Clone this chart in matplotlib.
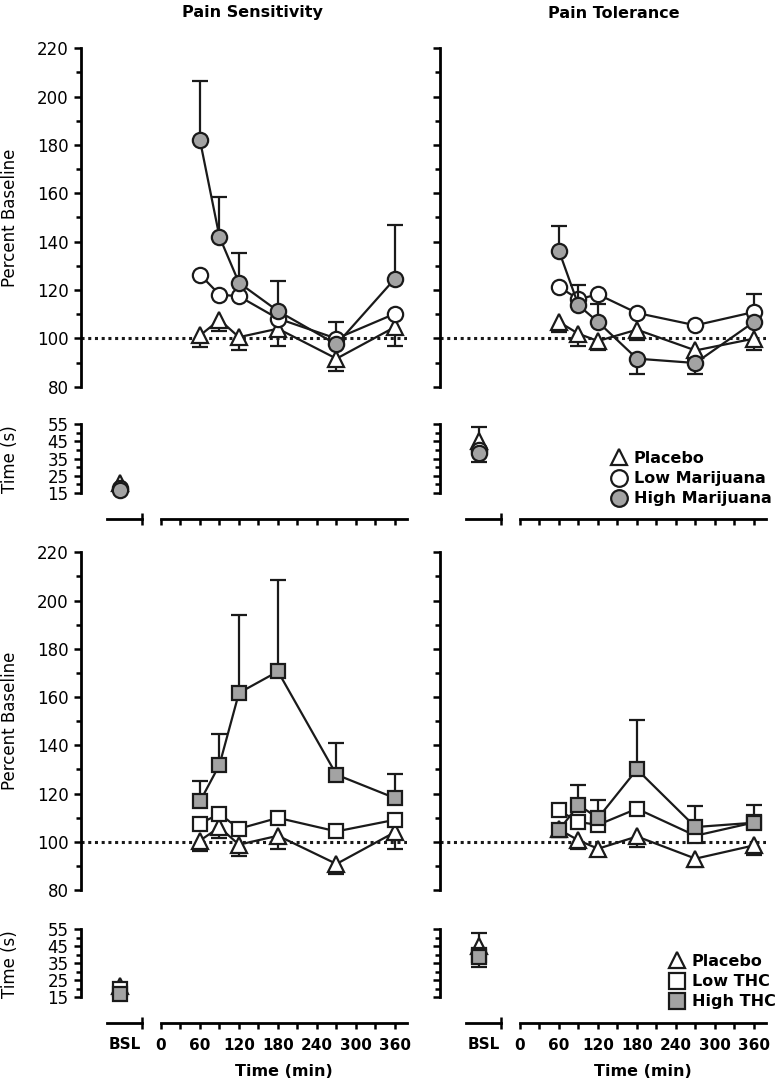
import numpy as np
import matplotlib.pyplot as plt
from matplotlib.lines import Line2D
from matplotlib.ticker import FixedLocator, FixedFormatter

plt.rcParams['font.family'] = ['DejaVu Sans']

W, H = 778, 1082

times = [60, 90, 120, 180, 270, 360]
x_ticks = [0, 30, 60, 90, 120, 150, 180, 210, 240, 270, 300, 330, 360]
x_ticklabels = ['0', '', '60', '', '120', '', '180', '', '240', '', '300', '', '360']

mj_labels = ['Placebo', 'Low Marijuana', 'High Marijuana']
thc_labels = ['Placebo', 'Low THC', 'High THC']

# Pain Sensitivity - smoked marijuana (percent baseline)
sens_mj_placebo = [101.2, 107.7, 100.5, 104.0, 91.6, 104.7]
sens_mj_placebo_dn = [4.8, 4.7, 5.5, 7.0, 4.9, 7.7]
sens_mj_low = [126.4, 118.1, 117.4, 108.2, 99.9, 110.2]
sens_mj_low_up = [0, 0, 0, 0, 7.0, 0]
sens_mj_high = [182.0, 142.0, 123.0, 111.3, 97.5, 124.7]
sens_mj_high_up = [24.6, 16.5, 12.4, 12.4, 0, 22.1]

# Pain Tolerance - smoked marijuana
tol_mj_placebo = [106.8, 101.9, 98.9, 103.6, 95.0, 99.9]
tol_mj_placebo_dn = [4.2, 4.9, 3.9, 4.4, 4.1, 4.6]
tol_mj_low = [121.3, 116.2, 118.2, 110.5, 105.4, 110.9]
tol_mj_low_up = [0, 0, 0, 0, 0, 7.3]
tol_mj_high = [136.2, 113.7, 106.8, 91.6, 89.8, 106.8]
tol_mj_high_up = [10.2, 8.3, 7.6, 0, 0, 0]
tol_mj_high_dn = [0, 0, 0, 6.5, 4.4, 0]

# Pain Sensitivity - oral THC
sens_thc_placebo = [100.5, 106.0, 98.8, 102.5, 90.8, 104.0]
sens_thc_placebo_dn = [4.5, 4.5, 4.5, 5.5, 4.0, 7.0]
sens_thc_low = [107.5, 111.6, 105.4, 109.9, 104.3, 109.1]
sens_thc_high = [116.7, 131.9, 161.7, 170.6, 127.8, 118.1]
sens_thc_high_up = [8.4, 12.8, 32.5, 38.1, 13.1, 9.8]

# Pain Tolerance - oral THC
tol_thc_placebo = [105.1, 100.6, 97.1, 102.2, 93.0, 98.5]
tol_thc_placebo_dn = [3.1, 3.5, 2.7, 4.4, 3.5, 4.1]
tol_thc_low = [113.0, 108.2, 107.0, 113.7, 102.5, 108.0]
tol_thc_high = [104.8, 115.3, 109.8, 130.0, 106.1, 107.9]
tol_thc_high_up = [0, 8.3, 7.6, 20.4, 8.9, 7.4]

# baseline (BSL) times in seconds: placebo, low, high
bsl_sens_mj = [21.0, 18.0, 17.0]
bsl_tol_mj = [45.0, 40.0, 38.5]
bsl_tol_mj_up = [8.0, 0, 0]
bsl_tol_mj_dn = [0, 0, 5.5]
bsl_sens_thc = [21.5, 20.0, 17.0]
bsl_tol_thc = [45.0, 40.0, 38.5]
bsl_tol_thc_up = [8.0, 0, 0]
bsl_tol_thc_dn = [0, 0, 5.5]

EDGE = '#1a1a1a'
GRAY = '#a3a3a3'
zeros = [0] * 6


def rect(left, top, right, bottom):
    return [left / W, 1 - bottom / H, (right - left) / W, (bottom - top) / H]


def errbars(ax, x, y, up, dn, z):
    x = np.asarray(x, float)
    y = np.asarray(y, float)
    for err, sign in ((np.asarray(up, float), 1), (np.asarray(dn, float), -1)):
        m = err > 0
        if m.any():
            tips = y[m] + sign * err[m]
            ax.vlines(x[m], y[m], tips, color=EDGE, lw=1.6, zorder=z, clip_on=False)
            ax.plot(x[m], tips, ls='none', marker='_', ms=12, mew=1.6,
                    color=EDGE, zorder=z, clip_on=False)


fig = plt.figure(figsize=(W / 100, H / 100), dpi=100)

col_left = [81, 440]
col_w = 326
main_rows = [(48.3, 386.7), (552.3, 890.0)]
time_rows = [(424.0, 519.0), (929.3, 1023.0)]
xlim = (-123, 378.5)

panels = [
    # row, col, series (placebo, low, high), bsl, shape
    (0, 0, [(sens_mj_placebo, zeros, sens_mj_placebo_dn), (sens_mj_low, sens_mj_low_up, zeros),
            (sens_mj_high, sens_mj_high_up, zeros)], (bsl_sens_mj, [0, 0, 0], [0, 0, 0]), 'o'),
    (0, 1, [(tol_mj_placebo, zeros, tol_mj_placebo_dn), (tol_mj_low, tol_mj_low_up, zeros),
            (tol_mj_high, tol_mj_high_up, tol_mj_high_dn)], (bsl_tol_mj, bsl_tol_mj_up, bsl_tol_mj_dn), 'o'),
    (1, 0, [(sens_thc_placebo, zeros, sens_thc_placebo_dn), (sens_thc_low, zeros, zeros),
            (sens_thc_high, sens_thc_high_up, zeros)], (bsl_sens_thc, [0, 0, 0], [0, 0, 0]), 's'),
    (1, 1, [(tol_thc_placebo, zeros, tol_thc_placebo_dn), (tol_thc_low, zeros, zeros),
            (tol_thc_high, tol_thc_high_up, zeros)], (bsl_tol_thc, bsl_tol_thc_up, bsl_tol_thc_dn), 's'),
]

for row, col, series, bsl, shape in panels:
    left = col_left[col]
    markers = ['^', shape, shape]
    faces = ['white', 'white', GRAY]
    sizes = [11.5, 11 if shape == 'o' else 10.5, 11 if shape == 'o' else 10.5]

    # main percent-baseline panel
    t, b = main_rows[row]
    ax = fig.add_axes(rect(left, t, left + col_w, b))
    ax.set_xlim(xlim)
    ax.set_ylim(80, 220)
    for s in ['top', 'right', 'bottom']:
        ax.spines[s].set_visible(False)
    ax.spines['left'].set_linewidth(2)
    ax.set_xticks([])
    ax.yaxis.set_major_locator(FixedLocator(range(80, 221, 20)))
    ax.yaxis.set_minor_locator(FixedLocator(range(90, 211, 20)))
    ax.tick_params(axis='y', which='major', direction='out', length=5, width=1.8,
                   labelsize=12, pad=4, labelleft=(col == 0))
    ax.tick_params(axis='y', which='minor', direction='out', length=3.5, width=1.8)
    ax.axhline(100, ls=(0, (1, 1.2)), lw=2.2, color=EDGE, zorder=1)
    for i in [2, 1, 0]:
        vals, up, dn = series[i]
        z = 3 + i
        errbars(ax, times, vals, up, dn, z)
        ax.plot(times, vals, color=EDGE, lw=1.6, marker=markers[i], ms=sizes[i],
                mfc=faces[i], mec=EDGE, mew=1.6, zorder=z + 0.5, clip_on=False)

    # time (s) panel
    t, b = time_rows[row]
    axt = fig.add_axes(rect(left, t, left + col_w, b))
    axt.set_xlim(xlim)
    axt.set_ylim(0, 55)
    for s in ['top', 'right']:
        axt.spines[s].set_visible(False)
    axt.spines['left'].set_bounds(15, 55)
    axt.spines['bottom'].set_bounds(0, xlim[1])
    axt.spines['left'].set_linewidth(2)
    axt.spines['bottom'].set_linewidth(2)
    axt.yaxis.set_major_locator(FixedLocator([15, 25, 35, 45, 55]))
    axt.yaxis.set_minor_locator(FixedLocator([20, 30, 40, 50]))
    axt.tick_params(axis='y', which='major', direction='out', length=5, width=1.8,
                    labelsize=12, pad=4, labelleft=(col == 0))
    axt.tick_params(axis='y', which='minor', direction='out', length=3.5, width=1.8)
    axt.xaxis.set_major_locator(FixedLocator(x_ticks))
    axt.xaxis.set_major_formatter(FixedFormatter(x_ticklabels))
    axt.xaxis.set_minor_locator(FixedLocator([0]))
    axt.tick_params(axis='x', which='major', direction='out', length=4.5, width=1.8,
                    labelsize=11, pad=6, labelbottom=(row == 1))
    axt.tick_params(axis='x', which='minor', direction='in', length=5, width=1.8)
    for lab in axt.get_xticklabels():
        lab.set_fontweight('bold')

    # baseline segment
    axb = fig.add_axes(rect(left + 26, t, left + 61, b))
    axb.set_xlim(0, 1)
    axb.set_ylim(0, 55)
    for s in ['top', 'right', 'left']:
        axb.spines[s].set_visible(False)
    axb.spines['bottom'].set_linewidth(2)
    axb.set_yticks([])
    axb.set_xticks([0.5], ['BSL'] if row == 1 else [''])
    axb.xaxis.set_minor_locator(FixedLocator([1.0]))
    axb.tick_params(axis='x', which='major', length=0, labelsize=11, pad=10)
    axb.tick_params(axis='x', which='minor', direction='inout', length=9, width=1.8)
    for lab in axb.get_xticklabels():
        lab.set_fontweight('bold')
    bvals, bup, bdn = bsl
    for i in [2, 1, 0]:
        z = 3 + i
        errbars(axb, [0.37], [bvals[i]], [bup[i]], [bdn[i]], z)
        axb.plot([0.37], [bvals[i]], ls='none', marker=markers[i], ms=sizes[i],
                 mfc=faces[i], mec=EDGE, mew=1.6, zorder=z + 0.5, clip_on=False)

    if col == 0:
        fig.text(10 / W, 1 - (t + b - 25) / 2 / H, 'Time (s)', rotation=90,
                 ha='center', va='center', fontsize=12)
        fig.text(10 / W, 1 - sum(main_rows[row]) / 2 / H, 'Percent Baseline', rotation=90,
                 ha='center', va='center', fontsize=12)
    if row == 1:
        fig.text((left + 203) / W, 1 - 1072 / H, 'Time (min)', ha='center', va='center',
                 fontsize=11.5, fontweight='bold')

fig.text(252 / W, 1 - 13 / H, 'Pain Sensitivity', ha='center', va='center',
         fontsize=11.5, fontweight='bold')
fig.text(614 / W, 1 - 13 / H, 'Pain Tolerance', ha='center', va='center',
         fontsize=11.5, fontweight='bold')


def legend_handles(shape):
    return [Line2D([], [], ls='none', marker=m, ms=12, mfc=f, mec=EDGE, mew=1.6)
            for m, f in zip(['^', shape, shape], ['white', 'white', GRAY])]


leg_kw = dict(loc='upper left', frameon=False, prop={'weight': 'bold', 'size': 11.5},
              handlelength=0.9, handletextpad=0.45, labelspacing=0.32,
              borderpad=0, borderaxespad=0)
fig.legend(legend_handles('o'), mj_labels, bbox_to_anchor=(612 / W, 1 - 451 / H), **leg_kw)
fig.legend(legend_handles('s'), thc_labels, bbox_to_anchor=(670 / W, 1 - 954 / H), **leg_kw)

fig.savefig('out.png', dpi=100)
